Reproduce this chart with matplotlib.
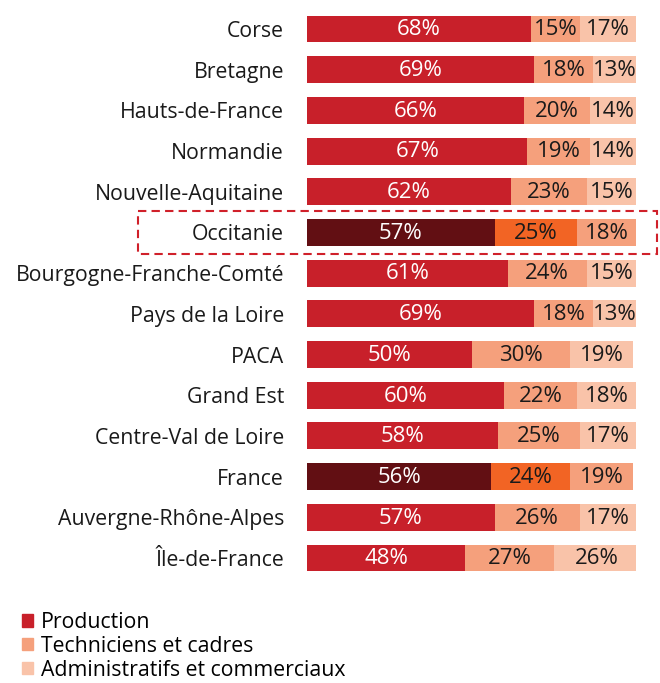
import matplotlib
matplotlib.use("Agg")
import matplotlib.pyplot as plt
from matplotlib.patches import Rectangle

plt.rcParams['font.family'] = ['Open Sans', 'DejaVu Sans']

regions = ["Corse", "Bretagne", "Hauts-de-France", "Normandie", "Nouvelle-Aquitaine",
           "Occitanie", "Bourgogne-Franche-Comté", "Pays de la Loire", "PACA", "Grand Est",
           "Centre-Val de Loire", "France", "Auvergne-Rhône-Alpes", "Île-de-France"]
production = [68, 69, 66, 67, 62, 57, 61, 69, 50, 60, 58, 56, 57, 48]
techniciens = [15, 18, 20, 19, 23, 25, 24, 18, 30, 22, 25, 24, 26, 27]
administratifs = [17, 13, 14, 14, 15, 18, 15, 13, 19, 18, 17, 19, 17, 26]
series_names = ["Production", "Techniciens et cadres", "Administratifs et commerciaux"]
highlight = ["Occitanie", "France"]

normal_colors = ['#C8202A', '#F5A07C', '#F9C3A9']
hl_colors = ['#620F13', '#F26424', '#F5A07C']
text_colors = ['white', '#1a1a1a', '#1a1a1a']

fig = plt.figure(figsize=(6.6, 6.83), dpi=100)
W, H = 660, 683
ax_left, ax_right = 307, 636
ax_top, ax_bot = 8.65, 578.35
ax = fig.add_axes([ax_left / W, 1 - ax_bot / H, (ax_right - ax_left) / W, (ax_bot - ax_top) / H])

n = len(regions)
ys = list(range(n))
series = [production, techniciens, administratifs]
bh = 0.66
fs_cat = 15.3
fs_val = 16
for i, reg in enumerate(regions):
    left = 0
    cols = hl_colors if reg in highlight else normal_colors
    for k, vals in enumerate(series):
        v = vals[i]
        ax.barh(i, v, left=left, height=bh, color=cols[k], edgecolor='none')
        ax.text(left + v / 2, i + 0.02, f"{v}%", ha='center', va='center', fontsize=fs_val,
                color=text_colors[k])
        left += v

ax.set_xlim(0, 100)
ax.set_ylim(n - 0.5, -0.5)
ax.set_yticks(ys)
ax.set_yticklabels(regions, fontsize=fs_cat, color='#1a1a1a')
ax.tick_params(axis='y', length=0, pad=16.5)
ax.set_xticks([])
for s in ax.spines.values():
    s.set_visible(False)

# dashed highlight box around Occitanie
oi = regions.index("Occitanie")
rect = Rectangle((-51.4, oi - 0.52), 157.8, 1.04, fill=False, edgecolor='#D0202A',
                 linestyle=(0, (4, 2.5)), linewidth=1.5, clip_on=False)
ax.add_patch(rect)

handles = [Rectangle((0, 0), 1, 1, color=c) for c in normal_colors]
fig.legend(handles, series_names, loc='upper left', bbox_to_anchor=(22 / W, 1 - 612 / H),
           frameon=False, fontsize=fs_cat, handlelength=0.5, handleheight=0.5,
           handletextpad=0.4, labelspacing=0.14, borderpad=0, borderaxespad=0)

fig.savefig("out.png", dpi=100)
